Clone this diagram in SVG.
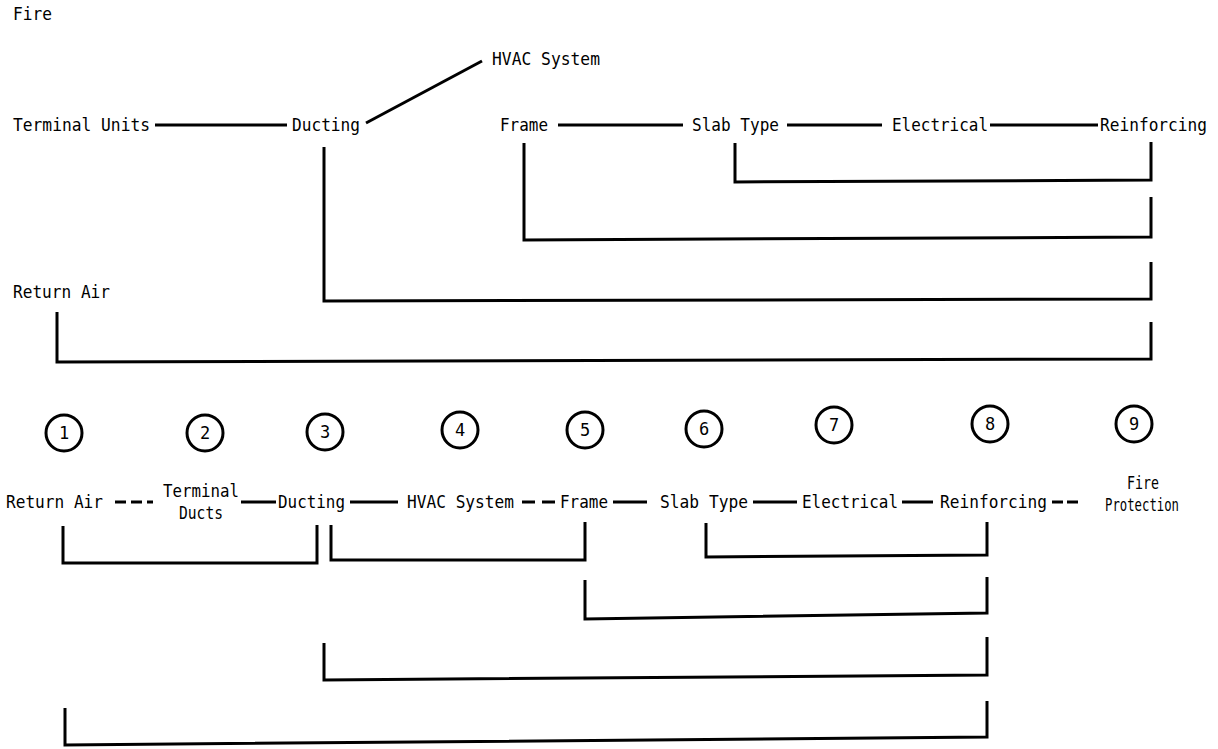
<svg xmlns="http://www.w3.org/2000/svg" width="1218" height="749" viewBox="0 0 1218 749">
<style>
text{font-family:"DejaVu Sans Mono","Liberation Mono",monospace;font-size:17.5px;fill:#000}
.m{text-anchor:middle}
.n{font-size:17px;text-anchor:middle}
.c{fill:none;stroke:#000;stroke-width:3}
.l{fill:none;stroke:#000;stroke-width:3;stroke-linecap:butt;stroke-linejoin:miter}
</style>
<rect width="1218" height="749" fill="#fff"/>
<g id="top-fire"><text x="13" y="20" textLength="39" lengthAdjust="spacingAndGlyphs">Fire</text></g>
<g id="top-terminal-units"><text x="13" y="131" textLength="137" lengthAdjust="spacingAndGlyphs">Terminal Units</text></g>
<g id="top-ducting"><text x="292" y="131" textLength="68" lengthAdjust="spacingAndGlyphs">Ducting</text></g>
<g id="top-hvac-system"><text x="492" y="65" textLength="108" lengthAdjust="spacingAndGlyphs">HVAC System</text></g>
<g id="top-frame"><text x="500" y="131" textLength="48" lengthAdjust="spacingAndGlyphs">Frame</text></g>
<g id="top-slab-type"><text x="692" y="131" textLength="87" lengthAdjust="spacingAndGlyphs">Slab Type</text></g>
<g id="top-electrical"><text x="892" y="131" textLength="96" lengthAdjust="spacingAndGlyphs">Electrical</text></g>
<g id="top-reinforcing"><text x="1100" y="131" textLength="107" lengthAdjust="spacingAndGlyphs">Reinforcing</text></g>
<g id="top-return-air"><text x="13" y="298" textLength="97" lengthAdjust="spacingAndGlyphs">Return Air</text></g>

<g id="step-1"><circle class="c" cx="64" cy="433" r="18"/><text class="n" x="64" y="439">1</text></g>
<g id="step-2"><circle class="c" cx="205" cy="433" r="18"/><text class="n" x="205" y="439">2</text></g>
<g id="step-3"><circle class="c" cx="325" cy="432" r="18"/><text class="n" x="325" y="438">3</text></g>
<g id="step-4"><circle class="c" cx="460" cy="430" r="18"/><text class="n" x="460" y="436">4</text></g>
<g id="step-5"><circle class="c" cx="585" cy="430" r="18"/><text class="n" x="585" y="436">5</text></g>
<g id="step-6"><circle class="c" cx="704" cy="429" r="18"/><text class="n" x="704" y="435">6</text></g>
<g id="step-7"><circle class="c" cx="834" cy="425" r="18"/><text class="n" x="834" y="431">7</text></g>
<g id="step-8"><circle class="c" cx="990" cy="424" r="18"/><text class="n" x="990" y="430">8</text></g>
<g id="step-9"><circle class="c" cx="1134" cy="424" r="18"/><text class="n" x="1134" y="430">9</text></g>

<g id="bot-return-air"><text x="6" y="508" textLength="97" lengthAdjust="spacingAndGlyphs">Return Air</text></g>
<g id="bot-terminal-ducts"><text class="m" x="201" y="497" textLength="76" lengthAdjust="spacingAndGlyphs">Terminal</text><text class="m" x="201" y="519" textLength="44" lengthAdjust="spacingAndGlyphs">Ducts</text></g>
<g id="bot-ducting"><text x="278" y="508" textLength="67" lengthAdjust="spacingAndGlyphs">Ducting</text></g>
<g id="bot-hvac-system"><text x="407" y="508" textLength="107" lengthAdjust="spacingAndGlyphs">HVAC System</text></g>
<g id="bot-frame"><text x="560" y="508" textLength="48" lengthAdjust="spacingAndGlyphs">Frame</text></g>
<g id="bot-slab-type"><text x="660" y="508" textLength="88" lengthAdjust="spacingAndGlyphs">Slab Type</text></g>
<g id="bot-electrical"><text x="802" y="508" textLength="96" lengthAdjust="spacingAndGlyphs">Electrical</text></g>
<g id="bot-reinforcing"><text x="940" y="508" textLength="107" lengthAdjust="spacingAndGlyphs">Reinforcing</text></g>
<g id="bot-fire-protection"><text class="m" x="1143" y="489" textLength="32" lengthAdjust="spacingAndGlyphs">Fire</text><text class="m" x="1142" y="511" textLength="74" lengthAdjust="spacingAndGlyphs">Protection</text></g>

<g id="connectors" class="l">
<path class="l" d="M155 125H287"/>
<path class="l" d="M366 123L482 61"/>
<path class="l" d="M558 125H683"/>
<path class="l" d="M787 125H882"/>
<path class="l" d="M990 125H1098"/>
<path class="l" d="M735 143V182L1151 180V142"/>
<path class="l" d="M524 143V240L1151 237V197"/>
<path class="l" d="M324 147V301L1151 299V262"/>
<path class="l" d="M57 312V362L1151 359V322"/>

<path class="l" d="M115 502H153" stroke-dasharray="11 5"/>
<path class="l" d="M241 502H276"/>
<path class="l" d="M350 502H398"/>
<path class="l" d="M522 502H555" stroke-dasharray="13 7"/>
<path class="l" d="M613 502H647"/>
<path class="l" d="M753 502H797"/>
<path class="l" d="M902 502H933"/>
<path class="l" d="M1052 502H1078" stroke-dasharray="11 4"/>
<path class="l" d="M63 526V563H317V525"/>
<path class="l" d="M331 525V560H585V522"/>
<path class="l" d="M706 523V557L987 555V522"/>
<path class="l" d="M585 580V619L987 613V577"/>
<path class="l" d="M324 643V680L987 675V637"/>
<path class="l" d="M65 708V745L987 737V701"/>
</g>
</svg>
